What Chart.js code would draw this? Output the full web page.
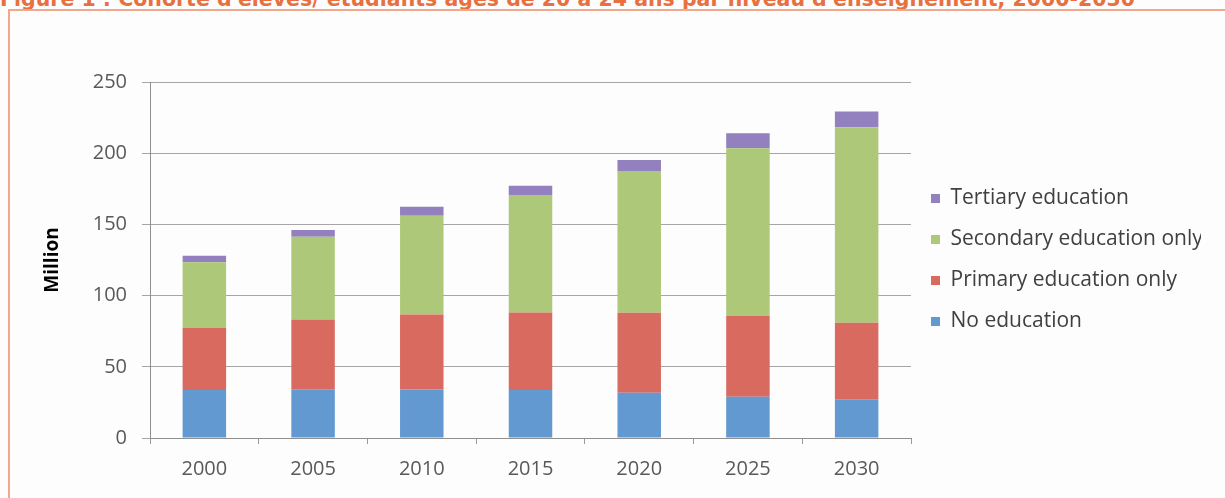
<!DOCTYPE html>
<html>
<head>
<meta charset="utf-8">
<script src="https://cdn.jsdelivr.net/npm/chart.js@4.4.1/dist/chart.umd.min.js"></script>
<style>
    html, body { margin: 0; padding: 0; background: #fdfdfd; overflow: hidden; }
    #wrap { position: relative; width: 1225px; height: 498px; overflow: hidden; }
    #title {
        position: absolute; left: 0; top: -13px; line-height: 20px;
        font: bold 20.5px "DejaVu Sans", sans-serif; color: #e8703f; white-space: nowrap;
    }
    #frame {
        position: absolute; left: 8px; top: 9px; width: 1300px; height: 600px;
        border-left: 2px solid #f2a88d; border-top: 2px solid #f2a88d;
    }
    #chartBox { position: absolute; left: 0; top: 0; width: 1225px; height: 498px; }
</style>
</head>
<body>
<div id="wrap">
    <div id="title">Figure 1 : Cohorte d'élèves/ étudiants âgés de 20 à 24 ans par niveau d'enseignement, 2000-2030</div>
    <div id="frame"></div>
    <div id="chartBox"><canvas id="barChart"></canvas></div>
</div>
<script>
const years = ['2000', '2005', '2010', '2015', '2020', '2025', '2030'];
const noEducation = [33.7, 34.2, 34.0, 33.7, 31.8, 29.0, 27.2];
const primaryOnly = [43.5, 49.1, 52.8, 54.5, 56.2, 56.7, 53.8];
const secondaryOnly = [46.2, 58.1, 69.3, 82.4, 99.5, 117.7, 137.2];
const tertiary = [4.6, 4.6, 6.3, 6.6, 7.7, 10.6, 11.0];
const yTicks = [0, 50, 100, 150, 200, 250];

document.addEventListener('DOMContentLoaded', function () {
    if (typeof Chart === 'undefined') return;

    const canvas = document.getElementById('barChart');
    const tickFont = { family: '"Open Sans", sans-serif', size: 20 };

    function series(label, data, color) {
        return {
            label: label,
            data: data,
            backgroundColor: color,
            borderWidth: 0,
            barPercentage: 0.4,
            categoryPercentage: 1
        };
    }

    new Chart(canvas, {
        type: 'bar',
        data: {
            labels: years,
            datasets: [
                series('No education', noEducation, '#6299d0'),
                series('Primary education only', primaryOnly, '#d96a60'),
                series('Secondary education only', secondaryOnly, '#adc879'),
                series('Tertiary education', tertiary, '#9280bf')
            ]
        },
        options: {
            responsive: true,
            maintainAspectRatio: false,
            animation: false,
            layout: { padding: { left: 41, top: 82, right: 24, bottom: 0 } },
            plugins: {
                tooltip: { enabled: false },
                legend: {
                    position: 'right',
                    fullSize: false,
                    reverse: true,
                    labels: {
                        boxWidth: 9,
                        boxHeight: 9,
                        padding: 20,
                        color: '#404040',
                        font: { family: '"Open Sans", sans-serif', size: 21 }
                    }
                }
            },
            scales: {
                x: {
                    stacked: true,
                    grid: {
                        offset: true,
                        drawOnChartArea: false,
                        tickLength: 6,
                        color: '#9a9a9a'
                    },
                    border: { color: '#8f8f8f' },
                    ticks: { color: '#595959', font: tickFont, padding: 13, maxRotation: 0 },
                    afterFit: function (scale) { scale.height = 60; }
                },
                y: {
                    stacked: true,
                    min: 0,
                    max: 250,
                    afterBuildTicks: function (scale) {
                        scale.ticks = yTicks.map(function (v) { return { value: v }; });
                    },
                    grid: { color: '#a6a6a6', tickLength: 8 },
                    border: { color: '#8f8f8f' },
                    ticks: { color: '#595959', font: tickFont, padding: 15 },
                    title: {
                        display: true,
                        text: 'Million',
                        color: '#000000',
                        font: { family: '"Open Sans", sans-serif', size: 19, weight: 'bold' },
                        padding: 0
                    },
                    afterFit: function (scale) { scale.width = 109; }
                }
            }
        }
    });
});
</script>
</body>
</html>
